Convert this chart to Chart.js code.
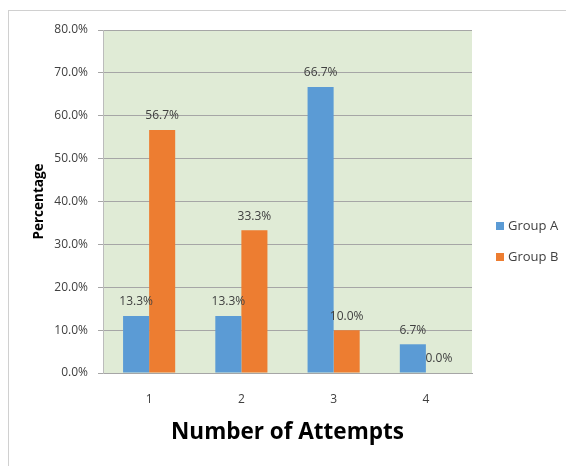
<!DOCTYPE html>
<html>
<head>
<meta charset="utf-8">
<script src="https://cdn.jsdelivr.net/npm/chart.js@4.4.1/dist/chart.umd.min.js"></script>
<style>
  html, body { margin: 0; padding: 0; background: #fff; }
  #wrap { position: relative; width: 566px; height: 466px; }
  #frame { position: absolute; left: 8px; top: 10px; right: -2px; bottom: -2px; border: 1px solid #d0d0d0; }
</style>
</head>
<body>
<div id="wrap">
  <div id="frame"></div>
  <canvas id="attempts" width="566" height="466"></canvas>
</div>
<script>
// attempts chart - percentage of students by number of attempts

const categories = ['1', '2', '3', '4'];
const groupA = [13.3, 13.3, 66.7, 6.7];
const groupB = [56.7, 33.3, 10.0, 0.0];
const seriesNames = ['Group A', 'Group B'];
const yTicks = [0, 10, 20, 30, 40, 50, 60, 70, 80];

const FONT = "'Open Sans', 'Noto Sans', sans-serif";
const COLORS = ['#5b9bd5', '#ed7d31'];

// green plot background
const plotBg = {
  id: 'plotBg',
  beforeDraw(chart) {
    const { ctx, chartArea: a } = chart;
    ctx.save();
    ctx.fillStyle = '#e0ebd6';
    ctx.fillRect(a.left, a.top, a.right - a.left, a.bottom - a.top);
    ctx.restore();
  }
};

// value labels above each bar
const barLabels = {
  id: 'barLabels',
  afterDatasetsDraw(chart) {
    const ctx = chart.ctx;
    ctx.save();
    ctx.font = `12px ${FONT}`;
    ctx.fillStyle = '#404040';
    ctx.textAlign = 'center';
    ctx.textBaseline = 'bottom';
    chart.data.datasets.forEach((ds, i) => {
      chart.getDatasetMeta(i).data.forEach((bar, j) => {
        ctx.fillText(ds.data[j].toFixed(1) + '%', bar.x, bar.y - 8);
      });
    });
    ctx.restore();
  }
};

// legend on the right, drawn by hand so the plot width stays fixed
const sideLegend = {
  id: 'sideLegend',
  afterDraw(chart) {
    const ctx = chart.ctx;
    ctx.save();
    ctx.font = `13px ${FONT}`;
    ctx.textBaseline = 'middle';
    chart.data.datasets.forEach((ds, i) => {
      const y = 226 + i * 31;
      ctx.fillStyle = ds.backgroundColor;
      ctx.fillRect(496, y - 4, 8, 8);
      ctx.fillStyle = '#404040';
      ctx.fillText(ds.label, 508, y);
    });
    ctx.restore();
  }
};

new Chart(document.getElementById('attempts').getContext('2d'), {
  type: 'bar',
  data: {
    labels: categories,
    datasets: [groupA, groupB].map((d, i) => ({
      label: seriesNames[i],
      data: d,
      backgroundColor: COLORS[i],
      borderWidth: 0,
      categoryPercentage: 0.565,
      barPercentage: 1.0
    }))
  },
  options: {
    responsive: false,
    animation: false,
    layout: { padding: { left: 29, right: 94, top: 30, bottom: 20 } },
    plugins: {
      legend: { display: false },
      tooltip: { enabled: false }
    },
    scales: {
      x: {
        grid: { display: false },
        border: { display: true, color: '#a6a6a6', width: 1 },
        ticks: { color: '#404040', font: { family: FONT, size: 12 }, padding: 11 },
        title: {
          display: true,
          text: 'Number of Attempts',
          color: '#000',
          font: { family: FONT, size: 22.5, weight: 'bold' },
          padding: 0
        },
        afterFit: s => { s.height = 73; }
      },
      y: {
        min: 0,
        max: 80,
        afterBuildTicks: s => { s.ticks = yTicks.map(v => ({ value: v })); },
        grid: { color: '#a6a6a6', tickLength: 5 },
        border: { display: true, color: '#bcbcbc' },
        ticks: {
          color: '#404040',
          font: { family: FONT, size: 12 },
          padding: 10,
          callback: v => v.toFixed(1) + '%'
        },
        title: {
          display: true,
          text: 'Percentage',
          color: '#000',
          font: { family: FONT, size: 13.5, weight: 'bold' },
          padding: 2
        },
        afterFit: s => { s.width = 74; }
      }
    }
  },
  plugins: [plotBg, barLabels, sideLegend]
});
</script>
</body>
</html>
